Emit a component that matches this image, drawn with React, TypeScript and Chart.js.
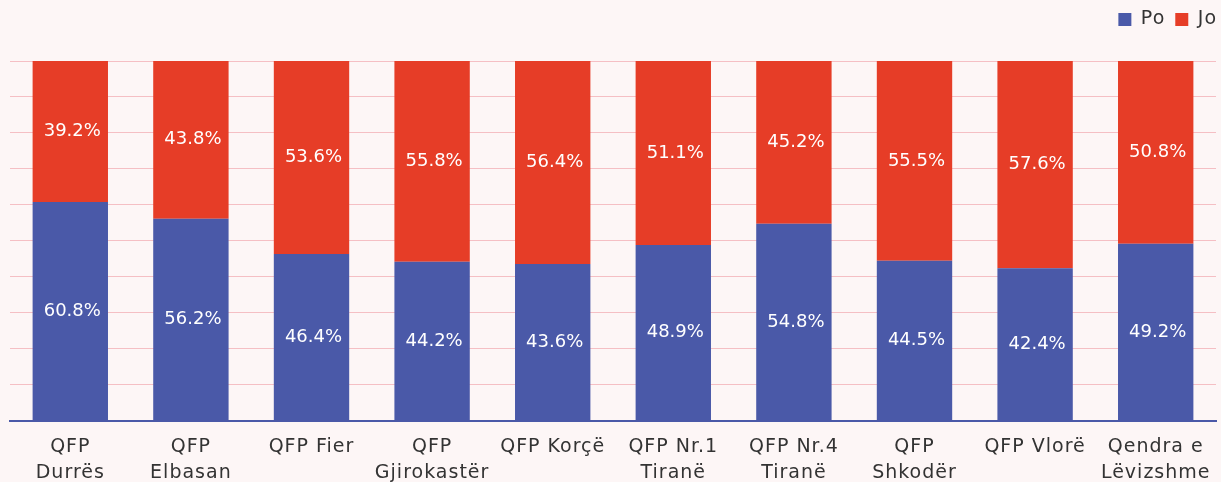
import React, { useEffect, useRef } from "react";
import { Chart, registerables } from "chart.js";

Chart.register(...registerables);

const categories: (string | string[])[] = [
  ["QFP", "Durrës"],
  ["QFP", "Elbasan"],
  "QFP Fier",
  ["QFP", "Gjirokastër"],
  "QFP Korçë",
  ["QFP Nr.1", "Tiranë"],
  ["QFP Nr.4", "Tiranë"],
  ["QFP", "Shkodër"],
  "QFP Vlorë",
  ["Qendra e", "Lëvizshme"],
];
const poValues = [60.8, 56.2, 46.4, 44.2, 43.6, 48.9, 54.8, 44.5, 42.4, 49.2];
const joValues = [39.2, 43.8, 53.6, 55.8, 56.4, 51.1, 45.2, 55.5, 57.6, 50.8];
const yTicks = [0, 10, 20, 30, 40, 50, 60, 70, 80, 90, 100];

const BG = "#fdf6f6";
const BLUE = "#4a59a8";
const RED = "#e63d27";
const FONT = "'DejaVu Sans', sans-serif";
const SPACING = "1px";

const bgPlugin = {
  id: "bg",
  beforeUpdate(chart: any) {
    chart.ctx.letterSpacing = SPACING;
  },
  beforeDraw(chart: any) {
    const ctx = chart.ctx;
    ctx.letterSpacing = SPACING;
    ctx.save();
    ctx.fillStyle = BG;
    ctx.fillRect(0, 0, chart.width, chart.height);
    ctx.restore();
  },
};

const legendShift = {
  id: "legendShift",
  beforeInit(chart: any) {
    const legend = chart.legend;
    if (legend) {
      const orig = legend.fit;
      legend.fit = function () {
        orig.call(this);
        this.height += 22;
      };
    }
  },
  afterLayout(chart: any) {
    const l = chart.legend;
    if (l) {
      l.left += 11;
      l.right += 11;
    }
  },
};

const valueLabels = {
  id: "valueLabels",
  afterDatasetsDraw(chart: any) {
    const ctx = chart.ctx;
    ctx.save();
    ctx.letterSpacing = "0px";
    ctx.font = `18px ${FONT}`;
    ctx.fillStyle = "#ffffff";
    ctx.textAlign = "center";
    ctx.textBaseline = "middle";
    chart.data.datasets.forEach((ds: any, di: number) => {
      const meta = chart.getDatasetMeta(di);
      meta.data.forEach((el: any, i: number) => {
        const p = el.getProps(["x", "y", "base"], true);
        const v = ds.data[i];
        ctx.fillText(`${v.toFixed(1)}%`, p.x + 2, (p.y + p.base) / 2);
      });
    });
    ctx.restore();
  },
};

export default function App() {
  const ref = useRef<HTMLCanvasElement>(null);
  useEffect(() => {
    document.documentElement.style.overflow = "hidden";
    document.body.style.margin = "0";
    document.body.style.background = BG;
    const chart = new Chart(ref.current!, {
      type: "bar",
      data: {
        labels: categories,
        datasets: [
          { label: "Po", data: poValues, backgroundColor: BLUE },
          { label: "Jo", data: joValues, backgroundColor: RED },
        ],
      },
      options: {
        animation: false,
        responsive: false,
        maintainAspectRatio: false,
        layout: { padding: { left: 10, right: 5, top: 0, bottom: 9 } },
        datasets: { bar: { categoryPercentage: 1, barPercentage: 0.625 } },
        plugins: {
          legend: {
            position: "top",
            align: "end",
            labels: {
              boxWidth: 13,
              boxHeight: 13,
              padding: 10,
              color: "#333333",
              font: { family: FONT, size: 19 },
            },
          },
          tooltip: { enabled: false },
        },
        scales: {
          x: {
            stacked: true,
            grid: { display: false },
            border: { display: true, color: BLUE, width: 2 },
            ticks: {
              color: "#333333",
              padding: 5,
              maxRotation: 0,
              autoSkip: false,
              font: { family: FONT, size: 19, lineHeight: 1.37 },
            },
          },
          y: {
            stacked: true,
            min: 0,
            max: 100,
            afterBuildTicks(scale: any) {
              scale.ticks = yTicks.map((v) => ({ value: v }));
            },
            ticks: { display: false },
            grid: { color: "#f5bfc4", lineWidth: 1, drawTicks: false },
            border: { display: false },
          },
        },
      },
      plugins: [bgPlugin, legendShift, valueLabels],
    });
    return () => chart.destroy();
  }, []);
  return (
    <div style={{ position: "absolute", left: 0, top: 0, width: 1221, height: 500 }}>
      <canvas ref={ref} width={1221} height={500} style={{ display: "block" }} />
    </div>
  );
}
